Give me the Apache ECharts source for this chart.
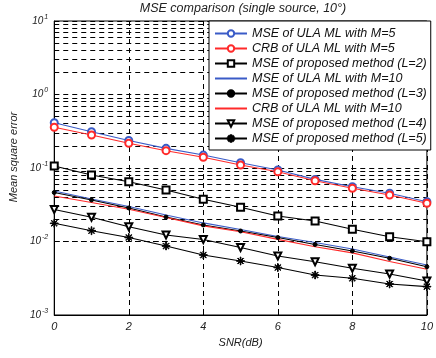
<!DOCTYPE html>
<html>
<head>
<meta charset="utf-8">
<script src="https://cdn.jsdelivr.net/npm/echarts@6/dist/echarts.min.js"></script>
<style>
  html, body { margin: 0; padding: 0; background: #fff; }
  #chart { width: 436px; height: 358px; }
</style>
</head>
<body>
<div id="chart"></div>
<script>
// SNR points (dB)
var snr = [0, 1, 2, 3, 4, 5, 6, 7, 8, 9, 10];

// values
var ulaM5  = [0.413, 0.312, 0.237, 0.185, 0.150, 0.118, 0.094, 0.070, 0.0557, 0.0453, 0.0348];
var crbM5  = [0.358, 0.281, 0.217, 0.172, 0.140, 0.110, 0.089, 0.0671, 0.0530, 0.0429, 0.0331];
var propL2 = [0.1065, 0.0803, 0.0651, 0.0502, 0.0375, 0.0292, 0.0222, 0.0190, 0.0147, 0.0116, 0.0099];
var ulaM10 = [0.0487, 0.0379, 0.0299, 0.0229, 0.0179, 0.0146, 0.0117, 0.0097, 0.0079, 0.00615, 0.00479];
var propL3 = [0.0464, 0.0367, 0.0286, 0.0215, 0.0168, 0.0139, 0.01133, 0.0091, 0.00743, 0.00591, 0.00454];
var crbM10 = [0.0416, 0.0340, 0.0274, 0.0212, 0.0163, 0.0136, 0.0107, 0.0085, 0.0070, 0.00534, 0.00419];
var propL4 = [0.02725, 0.02135, 0.0159, 0.01226, 0.01065, 0.00829, 0.00635, 0.00531, 0.00432, 0.00361, 0.0029];
var propL5 = [0.01769, 0.01403, 0.01133, 0.00869, 0.00655, 0.00543, 0.00443, 0.0035, 0.00316, 0.00264, 0.00243];

var names = [
    'MSE of ULA ML with M=5',
    'CRB of ULA ML with M=5',
    'MSE of proposed method (L=2)',
    'MSE of ULA ML with M=10',
    'MSE of proposed method (L=3)',
    'CRB of ULA ML with M=10',
    'MSE of proposed method (L=4)',
    'MSE of proposed method (L=5)'
];

var font = 'Liberation Sans, Arial, sans-serif';
var blue = '#3a5bc7';
var red = '#ff2a2a';
var clear = 'rgba(0,0,0,0)';

// minor log grid lines (2..9 x each decade)
var minorLines = [];
[0.001, 0.01, 0.1, 1].forEach(function (d) {
    for (var k = 2; k <= 9; k++) {
        minorLines.push({ yAxis: +(d * k).toPrecision(3) });
    }
});

// '*' marker
var asterisk = 'path://M-5,-0.4L5,-0.4L5,0.4L-5,0.4Z M-0.4,-5L0.4,-5L0.4,5L-0.4,5Z ' +
    'M-3.25,-3.81L3.81,3.25L3.25,3.81L-3.81,-3.25Z M-3.81,3.25L3.25,-3.81L3.81,-3.25L-3.25,3.81Z';

function pairs(arr) {
    return arr.map(function (v, i) { return [snr[i], v]; });
}

function line(name, data, color, symbol, size, extra) {
    var s = {
        name: name,
        type: 'line',
        z: 3,
        data: pairs(data),
        symbol: symbol,
        symbolSize: size,
        lineStyle: { color: color, width: 1.1 },
        itemStyle: { color: color, borderColor: color, borderWidth: 1 },
        animation: false
    };
    if (extra) {
        for (var k in extra) s[k] = extra[k];
    }
    return s;
}

// plain lines: keep a hidden symbol so the legend shows only the line
function plain(name, data, color) {
    return line(name, data, color, 'circle', 1, {
        showSymbol: false,
        itemStyle: { color: clear, borderColor: clear, borderWidth: 0 }
    });
}

var chart = echarts.init(document.getElementById('chart'));

var option = {
    animation: false,
    title: {
        text: 'MSE comparison (single source, 10°)',
        left: 243,
        top: 2,
        textAlign: 'center',
        padding: 0,
        textStyle: { fontFamily: font, fontStyle: 'italic', fontWeight: 'normal', fontSize: 12.5, color: '#222' }
    },
    grid: {
        left: 53, right: 3, top: 21, bottom: 43,
        show: true, borderColor: '#000', borderWidth: 1
    },
    legend: {
        orient: 'vertical',
        left: 209,
        top: 21,
        z: 20,
        padding: [6, 4, 5, 5],
        backgroundColor: '#fff',
        borderColor: '#000',
        borderWidth: 1,
        borderRadius: 0,
        itemWidth: 32,
        itemHeight: 8,
        itemGap: 2,
        data: names,
        textStyle: { fontFamily: font, fontStyle: 'italic', fontSize: 12.5, lineHeight: 12, color: '#111' }
    },
    xAxis: {
        type: 'value',
        min: 0,
        max: 10,
        interval: 2,
        name: 'SNR(dB)',
        nameLocation: 'middle',
        nameGap: 22,
        nameTextStyle: { fontFamily: font, fontStyle: 'italic', fontSize: 11, color: '#222' },
        axisLine: { lineStyle: { color: '#000', width: 1 } },
        axisTick: { inside: true, length: 4, lineStyle: { color: '#000' } },
        axisLabel: {
            fontFamily: font, fontStyle: 'italic', fontSize: 11, color: '#222', margin: 6,
            alignMaxLabel: 'center', alignMinLabel: 'center'
        },
        splitLine: { show: true, lineStyle: { color: '#000', type: [5, 4], width: 1 } }
    },
    yAxis: {
        type: 'log',
        logBase: 10,
        min: 0.001,
        max: 10,
        name: 'Mean square error',
        nameLocation: 'middle',
        nameGap: 31,
        nameTextStyle: { fontFamily: font, fontStyle: 'italic', fontSize: 11, color: '#222', padding: [0, 0, 0, 22] },
        axisLine: { lineStyle: { color: '#000', width: 1 } },
        axisTick: { inside: true, length: 5, lineStyle: { color: '#000' } },
        axisLabel: {
            margin: 6,
            formatter: function (v) {
                return '{b|10}{s|' + Math.round(Math.log10(v)) + '}';
            },
            rich: {
                b: { fontFamily: font, fontStyle: 'italic', fontSize: 10, color: '#222' },
                s: { fontFamily: font, fontStyle: 'italic', fontSize: 7, color: '#222', padding: [0, 0, 8, 1] }
            }
        },
        splitLine: { show: true, lineStyle: { color: '#000', type: [5, 4], width: 1 } }
    },
    series: [
        {
            name: 'minor grid',
            type: 'line',
            data: [],
            z: 1,
            silent: true,
            markLine: {
                z: 1,
                silent: true,
                symbol: 'none',
                label: { show: false },
                lineStyle: { color: '#000', type: [5, 4], width: 1 },
                data: minorLines,
                animation: false
            }
        },
        line(names[0], ulaM5, blue, 'emptyCircle', 7),
        line(names[1], crbM5, red, 'emptyCircle', 7),
        line(names[2], propL2, '#000', 'emptyRect', 7),
        plain(names[3], ulaM10, blue),
        line(names[4], propL3, '#000', 'circle', 4),
        plain(names[5], crbM10, red),
        line(names[6], propL4, '#000', 'emptyTriangle', 7, { symbolRotate: 180 }),
        line(names[7], propL5, '#000', asterisk, 8)
    ]
};

chart.setOption(option);
</script>
</body>
</html>
